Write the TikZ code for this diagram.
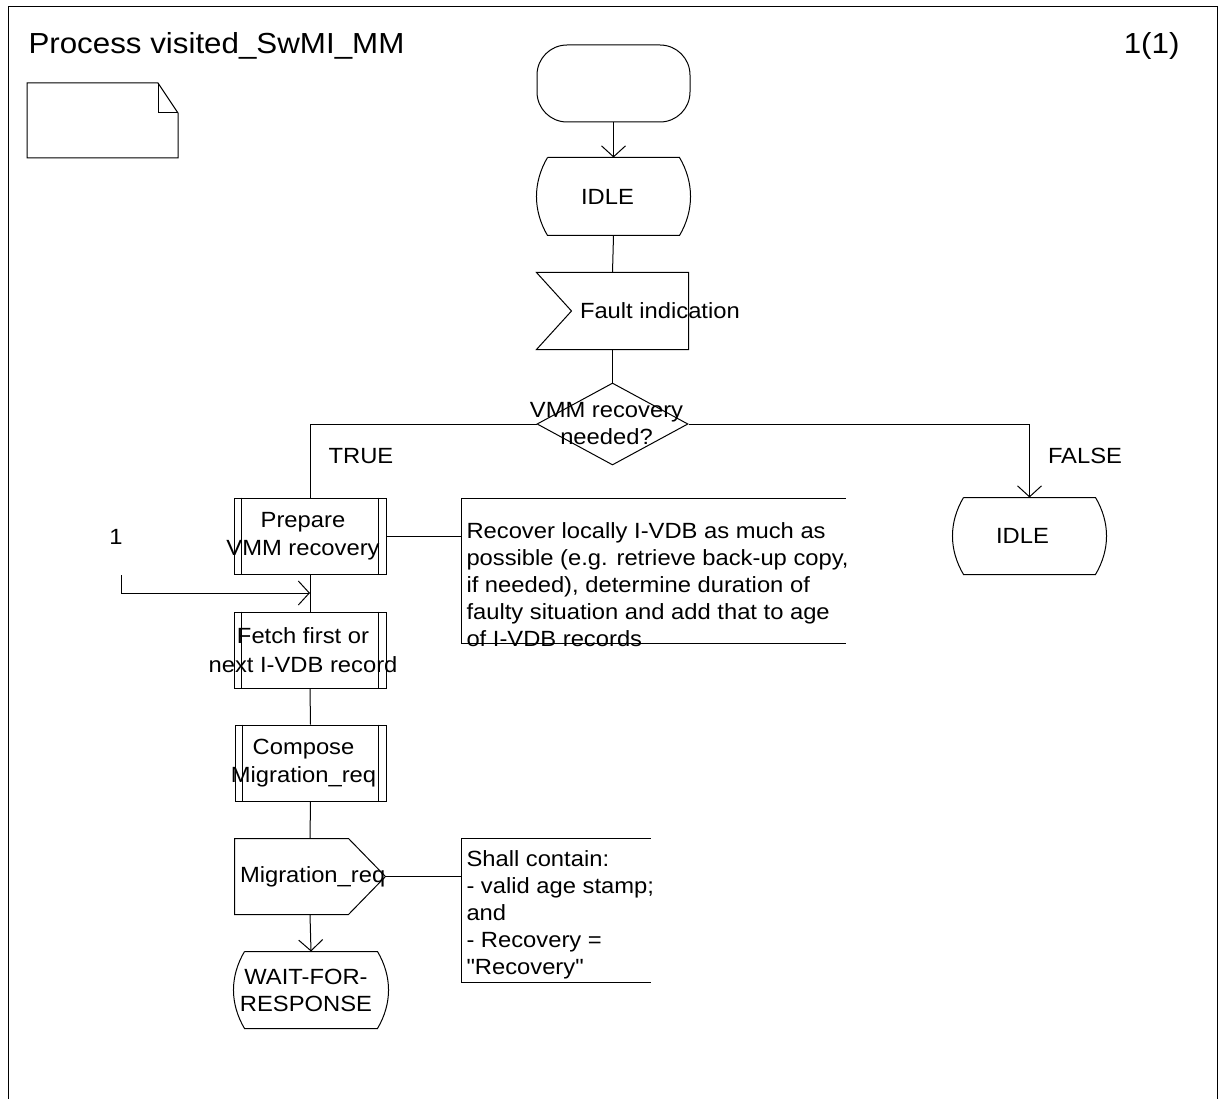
\documentclass[tikz,border=0pt]{standalone}
\usepackage{fontspec}
\setmainfont{Liberation Sans}[FakeStretch=1.08, Ligatures=TeXOff]
\usetikzlibrary{arrows.meta,shapes.geometric}
\newcommand\bodyfont{\fontsize{22}{27}\selectfont}
\newcommand\procfont{\fontsize{22}{28.5}\selectfont}
\newcommand\titlefont{\fontsize{29}{34}\selectfont}
\begin{document}
\begin{tikzpicture}[x=1pt,y=-1pt,
  line width=1pt,
  every node/.style={inner sep=0pt, font=\bodyfont},
  arr/.style={-{Straight Barb[length=11pt,width=24pt,line width=1pt]}},
  symb/.style={rectangle, draw=none, minimum width=#1},
  symb/.default=152pt,
  txt/.style={align=center, xshift=-7pt, font=\bodyfont},
  ptxt/.style={align=center, xshift=-7pt, font=\procfont},
  notetxt/.style={align=left, anchor=north west, font=\bodyfont}
]
\useasboundingbox (0,0) rectangle (1218,1099);
% frame
\draw (8,1099) -- (8,7) -- (1217,7) -- (1217,1099);
\node[anchor=west, font=\titlefont] (title) at (28,46) {Process visited\_SwMI\_MM};
\node[anchor=east, font=\titlefont] (page) at (1180,46) {1(1)};
% text symbol (page)
\draw (27,83) -- (158,83) -- (178,113) -- (178,158) -- (27,158) -- cycle;
\draw (158,83) -- (158,113) -- (178,113);

% start
\node[draw, rounded corners=30pt, minimum width=153pt, minimum height=77pt] (start) at (613.5,83.5) {};
% idle1
\node[symb=153pt, minimum height=77pt, label={[txt,xshift=1pt]center:IDLE}] (idle1) at (613.5,196.5) {};
% fault indication (input)
\node[symb=151pt, minimum height=76pt] (fault) at (612.5,311) {};
\draw (fault.north west) -- (fault.north east) -- (fault.south east) -- (fault.south west) -- ([xshift=35pt]fault.west) -- cycle;
\node[anchor=west] (faulttxt) at ([xshift=43pt]fault.west) {Fault indication};
% decision
\node[draw, diamond, minimum width=151pt, minimum height=82pt, label={[txt,xshift=1pt]center:VMM recovery\\needed?}] (dec) at (612.5,424) {};
% procedures
\node[symb, minimum height=76pt, draw, label={[ptxt]center:Prepare\\VMM recovery}] (prep) at (310,536) {};
\node[symb, minimum height=76pt, draw, label={[ptxt]center:Fetch first or\\next I-VDB record}] (fetch) at (310,650) {};
\node[symb=151pt, minimum height=76pt, draw, label={[ptxt]center:Compose\\Migration\_req}] (comp) at (310.5,763) {};
\foreach \n in {prep,fetch,comp}{
  \draw ([xshift=8pt]\n.north west) -- ([xshift=8pt]\n.south west);
  \draw ([xshift=-8pt]\n.north east) -- ([xshift=-8pt]\n.south east);
}
% output
\node[symb=150pt, minimum height=75pt] (mig) at (310,876.5) {};
\draw (mig.north west) -- ([xshift=-37pt]mig.north east) -- (mig.east) -- ([xshift=-37pt]mig.south east) -- (mig.south west) -- cycle;
\node[anchor=west] (migtxt) at ([xshift=5pt]mig.west) {Migration\_req};
% states
\node[symb=154pt, minimum height=76pt, label={[txt,xshift=2pt]center:WAIT-FOR-\\RESPONSE}] (wait) at (311,990) {};
\node[symb=153pt, minimum height=76pt, label={[txt]center:IDLE}] (idle2) at (1029.5,536) {};
\foreach \n in {idle1,idle2,wait}{
  \draw ([xshift=11pt]\n.north west) -- ([xshift=-11pt]\n.north east)
    .. controls ([xshift=3.7pt,yshift=-25pt]\n.north east) and ([xshift=3.7pt,yshift=25pt]\n.south east) .. ([xshift=-11pt]\n.south east)
    -- ([xshift=11pt]\n.south west)
    .. controls ([xshift=-3.7pt,yshift=25pt]\n.south west) and ([xshift=-3.7pt,yshift=-25pt]\n.north west) .. ([xshift=11pt]\n.north west);
}
% comments
\node[symb=383pt, minimum height=144pt] (c1) at (653.5,571) {};
\draw (c1.north east) -- (c1.north west) -- (c1.south west) -- (c1.south east);
\node[notetxt] (c1txt) at (466,522) {Recover locally I-VDB as much as\\possible (e.g. retrieve back-up copy,\\if needed), determine duration of\\faulty situation and add that to age\\of I-VDB records};
\node[symb=188pt, minimum height=143pt] (c2) at (556,910.5) {};
\draw (c2.north east) -- (c2.north west) -- (c2.south west) -- (c2.south east);
\node[notetxt] (c2txt) at (466,850) {Shall contain:\\- valid age stamp;\\and\\- Recovery =\\"Recovery"};
% connector 1
\node (one) at (116,537) {1};
\coordinate (conn1) at (121,575);
% labels
\node (true) at (361,456) {TRUE};
\node (false) at (1085,456) {FALSE};
% connectors
\draw[arr] (start) -- (idle1.north);
\draw (idle1.south) -- (fault.north);
\draw (fault.south) -- (dec.north);
\draw (dec.west) -| (prep.north);
\draw[arr] (dec.east) -| (idle2.north);
\draw (prep.east) -- (prep.east -| c1.west);
\draw (prep.south) -- (fetch.north);
\draw[arr] (conn1) |- (prep.south |- 0,593);
\draw (fetch.south) -- (comp.north);
\draw (comp.south) -- (mig.north);
\draw (mig.east) -- (mig.east -| c2.west);
\draw[arr] (mig.south) -- (wait.north);
\end{tikzpicture}
\end{document}
